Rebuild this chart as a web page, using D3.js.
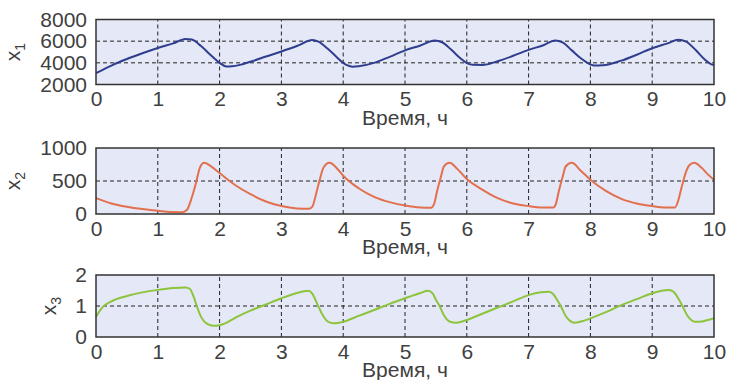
<!DOCTYPE html>
<html><head><meta charset="utf-8">
<script src="https://cdn.jsdelivr.net/npm/d3@7"></script>
<style>
body{margin:0;background:#fff;}
svg text{font-family:"Liberation Sans",Arial,sans-serif;fill:#404040;}
</style></head>
<body><svg id="c" width="731" height="380"></svg>
<script>
const xTicks=[0,1,2,3,4,5,6,7,8,9,10];
const xLabel="Время, ч";

const t1=[0,0.25,0.5,0.75,1.0,1.25,1.45,1.55,1.7,1.85,2.0,2.11,2.2,2.33,2.5,2.75,3.0,3.25,3.5,3.6,3.75,3.9,4.0,4.1,4.15,4.25,4.5,4.75,5.0,5.25,5.48,5.6,5.75,5.9,6.0,6.1,6.25,6.5,6.75,7.0,7.25,7.43,7.55,7.7,7.85,8.0,8.06,8.2,8.5,8.75,9.0,9.25,9.42,9.55,9.7,9.85,9.95,10.0];
const x1=[3040,3750,4350,4880,5370,5800,6200,6150,5550,4750,4000,3660,3680,3810,4100,4580,5050,5550,6100,5950,5300,4500,3980,3700,3650,3690,4000,4550,5150,5600,6070,5900,5200,4400,3980,3820,3810,4150,4650,5200,5650,6070,5880,5150,4400,3850,3750,3770,4200,4750,5350,5800,6130,5950,5200,4300,3880,3800];

const t2=[0,0.25,0.5,0.75,1.0,1.2,1.4,1.47,1.55,1.62,1.68,1.75,1.85,2.0,2.25,2.5,2.75,3.0,3.25,3.45,3.5,3.56,3.62,3.68,3.78,3.9,4.0,4.25,4.5,4.75,5.0,5.25,5.42,5.47,5.52,5.58,5.63,5.72,5.85,6.0,6.25,6.5,6.75,7.0,7.2,7.4,7.44,7.49,7.55,7.6,7.7,7.85,8.0,8.25,8.5,8.75,9.0,9.2,9.37,9.42,9.48,9.54,9.6,9.68,9.8,9.9,10.0];
const x2=[240,160,110,75,50,30,28,60,250,480,700,775,730,620,440,300,190,120,85,80,110,300,520,700,775,690,580,390,260,180,130,100,95,150,350,560,720,775,680,530,370,240,160,120,100,100,150,350,560,720,775,650,520,350,230,160,120,100,100,200,420,620,740,775,700,600,520];

const t3=[0,0.1,0.25,0.5,0.75,1.0,1.25,1.45,1.52,1.58,1.63,1.7,1.8,1.9,2.0,2.33,2.5,2.75,3.0,3.25,3.43,3.5,3.55,3.6,3.67,3.75,3.85,4.0,4.25,4.5,4.75,5.0,5.25,5.37,5.45,5.5,5.56,5.63,5.72,5.83,6.0,6.2,6.5,6.75,7.0,7.2,7.33,7.4,7.46,7.52,7.6,7.67,7.74,7.85,8.0,8.25,8.5,8.75,9.0,9.15,9.27,9.35,9.42,9.49,9.56,9.63,9.7,9.8,9.9,10.0];
const x3=[0.65,0.95,1.15,1.32,1.44,1.52,1.58,1.6,1.55,1.3,1.0,0.65,0.42,0.36,0.38,0.7,0.85,1.05,1.25,1.42,1.49,1.4,1.2,0.98,0.7,0.5,0.44,0.49,0.68,0.87,1.07,1.25,1.42,1.49,1.4,1.2,1.0,0.7,0.5,0.46,0.55,0.71,0.95,1.15,1.35,1.44,1.46,1.38,1.2,1.0,0.68,0.52,0.46,0.5,0.6,0.8,1.03,1.22,1.41,1.49,1.52,1.45,1.25,1.0,0.72,0.55,0.49,0.5,0.55,0.6];

const panels=[
 {t:t1,v:x1,dom:[2000,8000],yt:[2000,4000,6000,8000],grid:[4000,6000],top:19.5,bot:84.5,col:"#2f3d8f",lab:"1",labX:20},
 {t:t2,v:x2,dom:[0,1000],yt:[0,500,1000],grid:[500],top:148,bot:214,col:"#e2704f",lab:"2",labX:20},
 {t:t3,v:x3,dom:[0,2],yt:[0,1,2],grid:[1],top:275,bot:337,col:"#8cc43c",lab:"3",labX:56}
];

const svg=d3.select("#c");
const x=d3.scaleLinear().domain([0,10]).range([96,714]);

panels.forEach(p=>{
  const y=d3.scaleLinear().domain(p.dom).range([p.bot,p.top]);
  const g=svg.append("g");
  g.append("rect").attr("x",x(0)).attr("y",y(p.dom[1])).attr("width",x(10)-x(0)).attr("height",y(p.dom[0])-y(p.dom[1])).attr("fill","#e5e8f6");
  g.selectAll(".vg").data(xTicks.slice(1,-1)).join("line")
   .attr("x1",d=>x(d)).attr("x2",d=>x(d)).attr("y1",y(p.dom[0])).attr("y2",y(p.dom[1]))
   .attr("stroke","#222").attr("stroke-width",1).attr("stroke-dasharray","4,3");
  g.selectAll(".hg").data(p.grid).join("line")
   .attr("x1",x(0)).attr("x2",x(10)).attr("y1",d=>y(d)).attr("y2",d=>y(d))
   .attr("stroke","#222").attr("stroke-width",1).attr("stroke-dasharray","4,3");
  const pts=p.t.map((tt,i)=>[tt,p.v[i]]);
  g.append("path").datum(pts).attr("fill","none").attr("stroke",p.col).attr("stroke-width",2)
   .attr("d",d3.line().x(d=>x(d[0])).y(d=>y(d[1])).curve(d3.curveMonotoneX));
  g.append("rect").attr("x",x(0)).attr("y",y(p.dom[1])).attr("width",x(10)-x(0)).attr("height",y(p.dom[0])-y(p.dom[1])).attr("fill","none").attr("stroke","#333").attr("stroke-width",1.5);
  const ax=g.append("g").attr("transform",`translate(0,${y(p.dom[0])})`)
   .call(d3.axisBottom(x).tickValues(xTicks).tickFormat(d3.format("d")).tickSize(0).tickPadding(7));
  ax.select(".domain").remove();
  ax.selectAll("text").attr("font-size",21).attr("fill","#404040");
  const ay=g.append("g").attr("transform",`translate(${x(0)},0)`)
   .call(d3.axisLeft(y).tickValues(p.yt).tickFormat(d3.format("d")).tickSize(0).tickPadding(9));
  ay.select(".domain").remove();
  ay.selectAll("text").attr("font-size",21).attr("fill","#404040");
  g.append("text").attr("x",x(5)).attr("y",y(p.dom[0])+40).attr("text-anchor","middle").attr("font-size",21).text(xLabel);
  const cy=(p.top+p.bot)/2;
  const yl=g.append("text").attr("transform",`translate(${p.labX},${cy}) rotate(-90)`).attr("text-anchor","middle").attr("font-size",21);
  yl.append("tspan").text("x");
  yl.append("tspan").attr("font-size",14).attr("dy",5).text(p.lab);
});
</script></body></html>
